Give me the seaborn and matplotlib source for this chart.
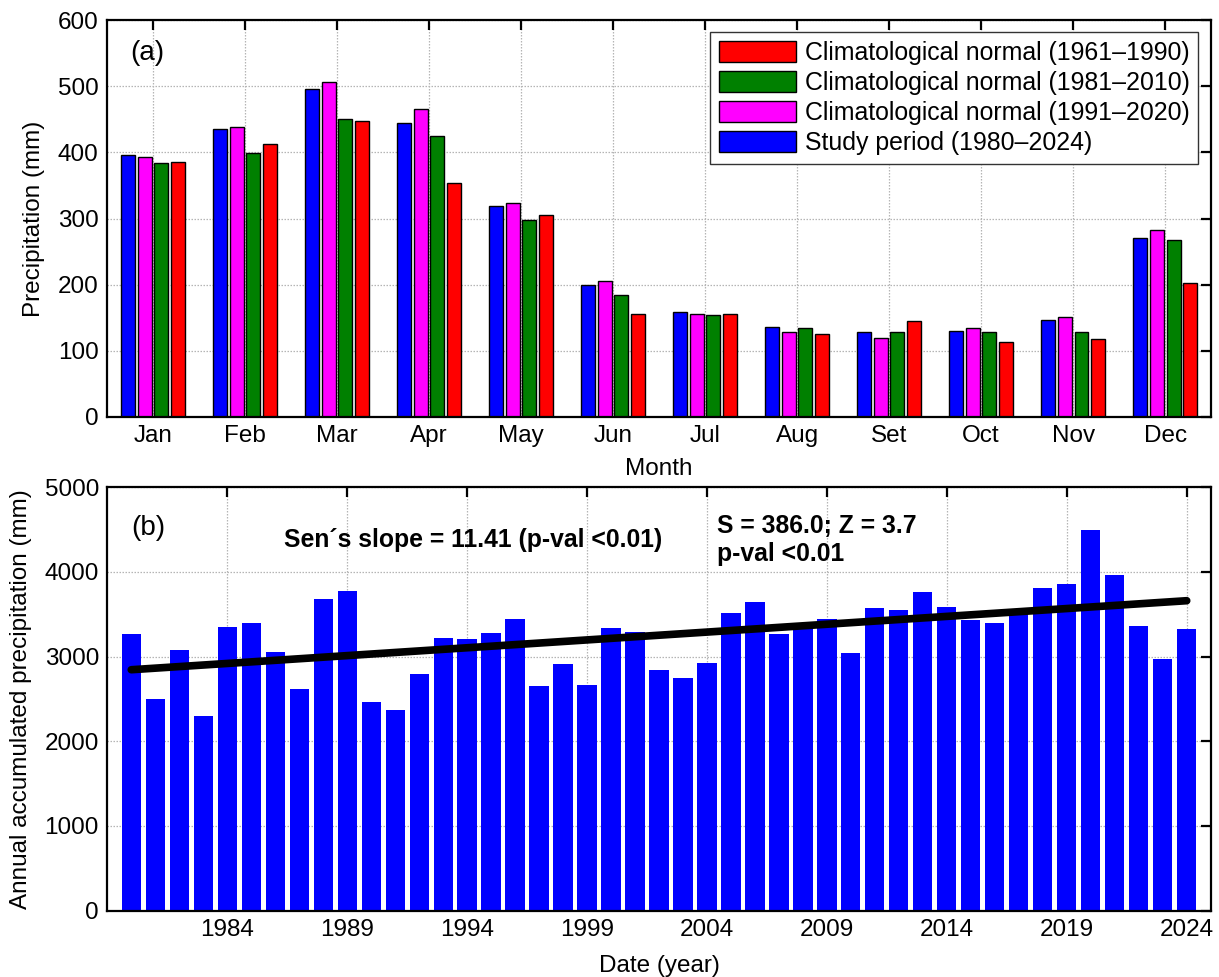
import numpy as np
import pandas as pd
import matplotlib
matplotlib.use("Agg")
import matplotlib.pyplot as plt
from matplotlib.patches import Patch
import seaborn as sns

# ---------------- data ----------------
months = ["Jan", "Feb", "Mar", "Apr", "May", "Jun", "Jul", "Aug", "Set", "Oct", "Nov", "Dec"]
study_1980_2024 = [396, 435, 496, 444, 319, 200, 158, 136, 128, 130, 146, 271]
normal_1991_2020 = [393, 438, 507, 465, 324, 205, 156, 128, 119, 135, 151, 283]
normal_1981_2010 = [384, 399, 450, 424, 298, 185, 154, 134, 128, 129, 128, 268]
normal_1961_1990 = [385, 412, 447, 354, 305, 155, 156, 126, 145, 114, 118, 203]
series_labels = ["Study period (1980\u20132024)",
                 "Climatological normal (1991\u20132020)",
                 "Climatological normal (1981\u20132010)",
                 "Climatological normal (1961\u20131990)"]
series_colors = ["#0000FF", "#FF00FF", "#008000", "#FF0000"]

years = list(range(1980, 2025))
annual_precip = [3263, 2498, 3075, 2302, 3349, 3400, 3051, 2616, 3675, 3769,
                 2467, 2369, 2796, 3216, 3208, 3275, 3447, 2647, 2918, 2667,
                 3337, 3286, 2843, 2753, 2925, 3514, 3647, 3271, 3340, 3447,
                 3047, 3573, 3545, 3757, 3580, 3427, 3400, 3500, 3812, 3863,
                 4498, 3965, 3361, 2973, 3329]
trend_years = [1980, 2024]
trend_values = [2845, 3660]
year_ticks = [1984, 1989, 1994, 1999, 2004, 2009, 2014, 2019, 2024]

# ---------------- style ----------------
sns.set_theme(style="white")
plt.rcParams["font.family"] = ["Liberation Sans", "DejaVu Sans"]
plt.rcParams["axes.unicode_minus"] = False
plt.rcParams["text.color"] = "black"
plt.rcParams["axes.labelcolor"] = "black"
plt.rcParams["xtick.color"] = "black"
plt.rcParams["ytick.color"] = "black"
FS = 17.5

fig = plt.figure(figsize=(12.19, 9.77), dpi=100)
ax1 = fig.add_axes([0.0878, 0.5732, 0.9057, 0.4063])
ax2 = fig.add_axes([0.0880, 0.0679, 0.9052, 0.4334])

# ---------------- panel (a) ----------------
df_a = pd.DataFrame({
    "Month": months * 4,
    "Precipitation": study_1980_2024 + normal_1991_2020 + normal_1981_2010 + normal_1961_1990,
    "Series": sum([[s] * 12 for s in series_labels], []),
})
sns.barplot(data=df_a, x="Month", y="Precipitation", hue="Series",
            order=months, hue_order=series_labels,
            palette=dict(zip(series_labels, series_colors)),
            width=0.733, gap=0.17, edgecolor="black", linewidth=1.0,
            saturation=1.0, errorbar=None, legend=False, ax=ax1)
ax1.set_xlim(-0.5, 11.5)
ax1.set_ylim(0, 600)
ax1.set_yticks(np.arange(0, 601, 100))
ax1.set_xlabel("Month", fontsize=FS, labelpad=8, color="black")
ax1.set_ylabel("Precipitation (mm)", fontsize=FS, labelpad=9, color="black")
ax1.text(0.021, 0.917, "(a)", transform=ax1.transAxes, fontsize=20,
         ha="left", va="center", color="black")
handles = [Patch(facecolor=c, edgecolor="black", linewidth=1.0) for c in series_colors]
leg = ax1.legend(handles[::-1], series_labels[::-1], loc="upper right",
                 bbox_to_anchor=(0.9885, 0.969), borderaxespad=0,
                 fontsize=17.9, frameon=True, fancybox=False, framealpha=1,
                 edgecolor="#333333", handlelength=3.1, handleheight=0.9,
                 handletextpad=0.35, labelspacing=0.24, borderpad=0.35)
leg.get_frame().set_linewidth(1.0)
for t in leg.get_texts():
    t.set_color("black")

# ---------------- panel (b) ----------------
df_b = pd.DataFrame({"Year": years, "Annual": annual_precip})
sns.barplot(data=df_b, x="Year", y="Annual", native_scale=True,
            color="#0000FF", saturation=1.0, width=0.8, errorbar=None,
            linewidth=0, ax=ax2)
sns.lineplot(x=trend_years, y=trend_values, color="black", linewidth=5.5,
             ax=ax2, zorder=5)
ax2.set_xlim(1979, 2025)
ax2.set_ylim(0, 5000)
ax2.set_yticks(np.arange(0, 5001, 1000))
ax2.set_xticks(year_ticks)
ax2.set_xticklabels([str(y) for y in year_ticks])
ax2.set_xlabel("Date (year)", fontsize=FS, labelpad=10, color="black")
ax2.set_ylabel("Annual accumulated precipitation (mm)", fontsize=FS, labelpad=9, color="black")
ax2.text(0.022, 0.904, "(b)", transform=ax2.transAxes, fontsize=20,
         ha="left", va="center", color="black")
ax2.text(0.160, 0.860, "Sen\u00b4s slope = 11.41 (p-val <0.01)", transform=ax2.transAxes,
         fontsize=17.8, fontweight="bold", ha="left", va="baseline", color="black")
ax2.text(0.553, 0.892, "S = 386.0; Z = 3.7", transform=ax2.transAxes,
         fontsize=17.8, fontweight="bold", ha="left", va="baseline", color="black")
ax2.text(0.553, 0.826, "p-val <0.01", transform=ax2.transAxes,
         fontsize=17.8, fontweight="bold", ha="left", va="baseline", color="black")

# ---------------- common axes styling ----------------
for ax in (ax1, ax2):
    ax.set_axisbelow(True)
    ax.grid(True, which="major", linestyle=(0, (1.2, 1.2)), color="#b5b5b5", linewidth=0.9)
    ax.tick_params(direction="in", length=7, width=1.6, top=True, right=True,
                   labelsize=FS, pad=6, colors="black")
    for sp in ax.spines.values():
        sp.set_linewidth(1.6)
        sp.set_color("black")
        sp.set_visible(True)

fig.savefig("out.png", dpi=100, facecolor="white")
